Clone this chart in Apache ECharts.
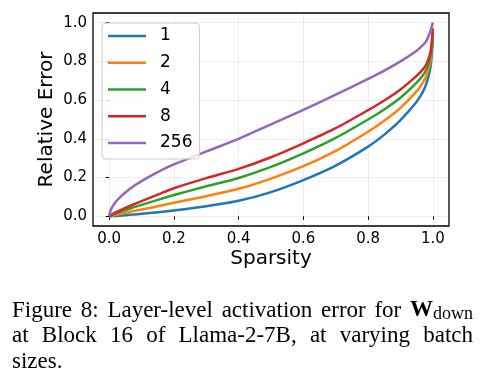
<!DOCTYPE html>
<html><head><meta charset="utf-8">
<script src="https://cdn.jsdelivr.net/npm/echarts@6/dist/echarts.min.js"></script>
<style>html,body{margin:0;padding:0;background:#fff}#c{width:487px;height:384px}</style>
</head><body><div id="c"></div>
<script>
// ---- data ----
const sparsity = [0, 0.005, 0.01, 0.02, 0.03, 0.05, 0.075, 0.1, 0.15, 0.2, 0.3, 0.4, 0.5, 0.6, 0.7, 0.8, 0.85, 0.9, 0.95, 0.97, 0.98, 0.99, 0.995, 1.0];
const err1   = [0, 0.0005, 0.001, 0.002, 0.003, 0.006, 0.009, 0.013, 0.021, 0.03, 0.052, 0.08, 0.125, 0.187, 0.262, 0.36, 0.422, 0.497, 0.592, 0.645, 0.685, 0.745, 0.8, 0.91];
const err2   = [0, 0.002, 0.004, 0.008, 0.011, 0.018, 0.027, 0.035, 0.052, 0.07, 0.104, 0.142, 0.195, 0.259, 0.338, 0.437, 0.493, 0.56, 0.645, 0.693, 0.725, 0.78, 0.83, 0.93];
const err4   = [0, 0.004, 0.008, 0.015, 0.021, 0.032, 0.046, 0.059, 0.085, 0.11, 0.155, 0.198, 0.255, 0.325, 0.405, 0.5, 0.552, 0.612, 0.69, 0.73, 0.758, 0.805, 0.85, 0.95];
const err8   = [0, 0.006, 0.011, 0.02, 0.028, 0.043, 0.061, 0.078, 0.112, 0.145, 0.197, 0.245, 0.305, 0.377, 0.455, 0.548, 0.598, 0.655, 0.725, 0.76, 0.785, 0.83, 0.87, 0.97];
const err256 = [0, 0.034, 0.05, 0.074, 0.093, 0.123, 0.155, 0.182, 0.228, 0.268, 0.335, 0.40, 0.475, 0.55, 0.628, 0.71, 0.752, 0.80, 0.855, 0.885, 0.905, 0.945, 0.97, 1.0];
const batchSizes = ['1', '2', '4', '8', '256'];
const xTicks = [0, 0.2, 0.4, 0.6, 0.8, 1.0];
const yTicks = [0, 0.2, 0.4, 0.6, 0.8, 1.0];
const xTitle = 'Sparsity';
const yTitle = 'Relative Error';
const captionLine1 = ['Figure', '8:', 'Layer-level', 'activation', 'error', 'for'];
const captionBold = 'W';
const captionSub = 'down';
const captionLine2 = ['at', 'Block', '16', 'of', 'Llama-2-7B,', 'at', 'varying', 'batch'];
const captionLine3 = 'sizes.';

// ---- style ----
const colors = ['#1f77b4', '#ff7f0e', '#2ca02c', '#d62728', '#9467bd'];
const G = { left: 93, top: 13, width: 356, height: 213 };
const SANS = 'DejaVu Sans';
const SERIF = 'Liberation Serif';

const chart = echarts.init(document.getElementById('c'), null, { renderer: 'canvas' });
const allSeries = [err1, err2, err4, err8, err256];
const series = allSeries.map((arr, i) => ({
  name: batchSizes[i], type: 'line',
  data: sparsity.map((x, j) => [x, arr[j]]),
  symbol: 'none', showSymbol: false, smooth: 0.25,
  lineStyle: { width: 2.5, color: colors[i] }, itemStyle: { color: colors[i] },
  z: 3 + i
}));

// caption justification
const cv = document.createElement('canvas').getContext('2d');
function tw(t, size, weight) { cv.font = (weight || 'normal') + ' ' + size + 'px "' + SERIF + '"'; return cv.measureText(t).width; }
const capL = 12, capR = 473;
const graphics = [];
function txt(t, x, y, size, weight, family, extra) {
  return Object.assign({ type: 'text', x: x, y: y, silent: true, z: 20,
    style: { text: t, fontSize: size, fontWeight: weight || 'normal', fontFamily: family || SERIF, fill: '#000', align: 'left', verticalAlign: 'middle' } }, extra || {});
}
// line 1
(function () {
  const ws = captionLine1.map(t => tw(t, 23));
  const wB = tw(captionBold, 23, 'bold'), wS = tw(captionSub, 18);
  const total = ws.reduce((a, b) => a + b, 0) + wB + wS;
  const gap = (capR - capL - total) / captionLine1.length;
  let x = capL; const y = 310.5;
  captionLine1.forEach((t, i) => { graphics.push(txt(t, x, y, 23)); x += ws[i] + gap; });
  graphics.push(txt(captionBold, x, y, 23, 'bold')); x += wB;
  graphics.push(txt(captionSub, x, 314, 18));
})();
// line 2
(function () {
  const ws = captionLine2.map(t => tw(t, 23));
  const total = ws.reduce((a, b) => a + b, 0);
  const gap = (capR - capL - total) / (captionLine2.length - 1);
  let x = capL; const y = 336;
  captionLine2.forEach((t, i) => { graphics.push(txt(t, x, y, 23)); x += ws[i] + gap; });
})();
graphics.push(txt(captionLine3, capL, 361.7, 23));
// axis titles
graphics.push({ type: 'text', x: G.left + G.width / 2, y: 259, silent: true, z: 20,
  style: { text: xTitle, fontSize: 20, fontFamily: SANS, fill: '#000', align: 'center', verticalAlign: 'middle' } });
graphics.push({ type: 'text', x: 47, y: G.top + G.height / 2, rotation: Math.PI / 2, silent: true, z: 20,
  style: { text: yTitle, fontSize: 20, fontFamily: SANS, fill: '#000', align: 'center', verticalAlign: 'middle' } });
// frame
graphics.push({ type: 'rect', silent: true, z: 15,
  shape: { x: G.left, y: G.top, width: G.width, height: G.height },
  style: { fill: 'none', stroke: '#000', lineWidth: 1.3 } });

const axisCommon = {
  type: 'value', min: -0.05, max: 1.05, splitNumber: 5,
  axisLine: { show: false },
  splitLine: { show: true, lineStyle: { color: '#e8e8e8', width: 0.8 } }
};

chart.setOption({
  backgroundColor: '#fff',
  animation: false,
  textStyle: { fontFamily: SANS },
  grid: { left: G.left, top: G.top, width: G.width, height: G.height, containLabel: false },
  xAxis: Object.assign({}, axisCommon, {
    axisTick: { show: true, length: 3.5, customValues: xTicks, lineStyle: { color: '#000', width: 1 } },
    axisLabel: { customValues: xTicks, formatter: v => v.toFixed(1), fontSize: 15, color: '#000', fontFamily: SANS, margin: 6 }
  }),
  yAxis: Object.assign({}, axisCommon, {
    axisTick: { show: true, length: 3.5, customValues: yTicks, lineStyle: { color: '#000', width: 1 } },
    axisLabel: { customValues: yTicks, formatter: v => v.toFixed(1), fontSize: 15, color: '#000', fontFamily: SANS, margin: 6 }
  }),
  legend: {
    orient: 'vertical', left: 102, top: 23,
    data: batchSizes,
    icon: 'rect',
    itemWidth: 38, itemHeight: 2.5, itemGap: 9.75,
    padding: [4.5, 7, 7.5, 6],
    backgroundColor: 'rgba(255,255,255,0.8)', borderColor: '#cccccc', borderWidth: 1, borderRadius: 4,
    textStyle: { fontSize: 17, fontFamily: SANS, color: '#000', lineHeight: 17, padding: [0, 0, 0, 9] },
    z: 12
  },
  series: series,
  graphic: graphics
});
</script>
</body></html>
